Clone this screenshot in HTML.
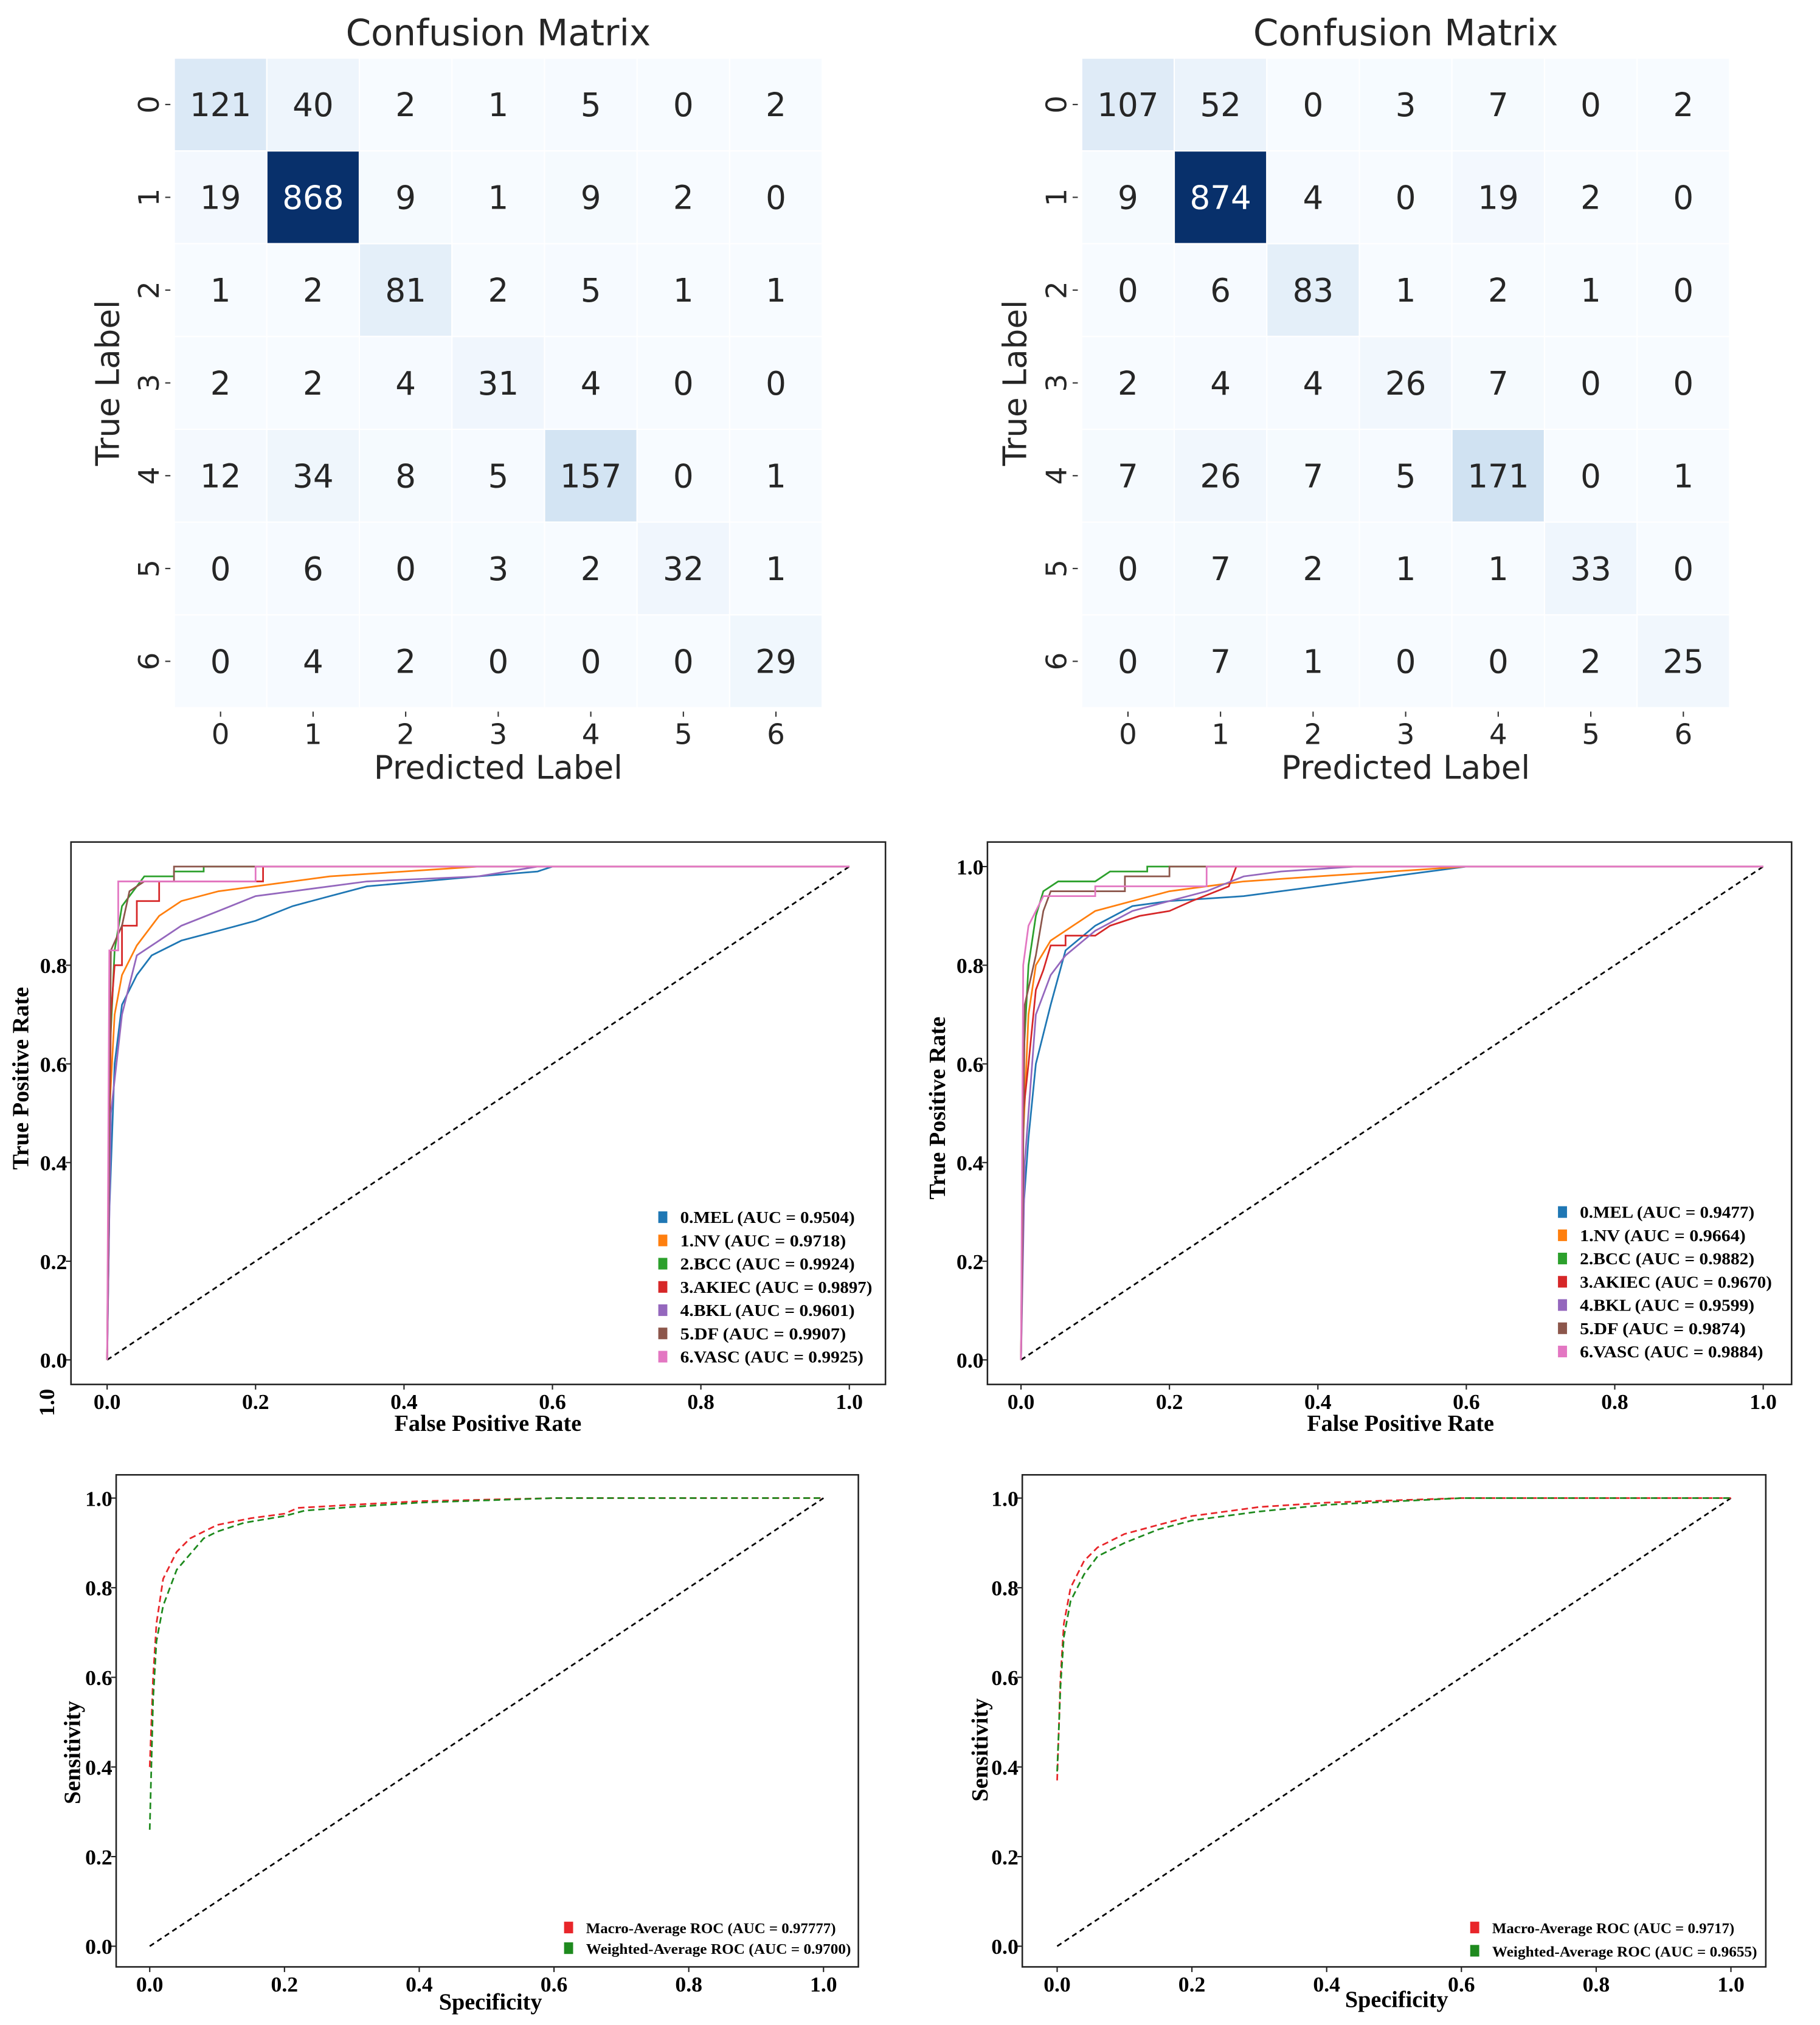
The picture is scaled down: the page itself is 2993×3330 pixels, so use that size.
<!DOCTYPE html>
<html><head><meta charset="utf-8">
<style>
html,body{margin:0;padding:0;background:#fff;}
svg{display:block;}
.cm{font-family:"DejaVu Sans","Liberation Sans",sans-serif;fill:#262626;}
.roc{font-family:"Liberation Serif",serif;font-weight:bold;fill:#000;}
</style></head>
<body>
<svg id="fig" width="2993" height="3330" viewBox="0 0 1410 1568" preserveAspectRatio="none" xmlns="http://www.w3.org/2000/svg"></svg>
<script>
// ---------- Data ----------
const cmLabels = ["0","1","2","3","4","5","6"];
const cm1Values = [
 [121,40,2,1,5,0,2],
 [19,868,9,1,9,2,0],
 [1,2,81,2,5,1,1],
 [2,2,4,31,4,0,0],
 [12,34,8,5,157,0,1],
 [0,6,0,3,2,32,1],
 [0,4,2,0,0,0,29]];
const cm2Values = [
 [107,52,0,3,7,0,2],
 [9,874,4,0,19,2,0],
 [0,6,83,1,2,1,0],
 [2,4,4,26,7,0,0],
 [7,26,7,5,171,0,1],
 [0,7,2,1,1,33,0],
 [0,7,1,0,0,2,25]];

const rocClassNames = ["0.MEL","1.NV","2.BCC","3.AKIEC","4.BKL","5.DF","6.VASC"];
const rocColors = ["#1f77b4","#ff7f0e","#2ca02c","#d62728","#9467bd","#8c564b","#e377c2"];
const roc1Auc = ["0.9504","0.9718","0.9924","0.9897","0.9601","0.9907","0.9925"];
const roc2Auc = ["0.9477","0.9664","0.9882","0.9670","0.9599","0.9874","0.9884"];
const roc1Mel = [[0,0],[0.003,0.3],[0.01,0.6],[0.02,0.72],[0.04,0.78],[0.06,0.82],[0.1,0.85],[0.15,0.87],[0.2,0.89],[0.25,0.92],[0.3,0.94],[0.35,0.96],[0.5,0.98],[0.58,0.99],[0.6,1],[1,1]];
const roc1Nv = [[0,0],[0.003,0.5],[0.01,0.7],[0.02,0.78],[0.04,0.84],[0.07,0.9],[0.1,0.93],[0.15,0.95],[0.2,0.96],[0.3,0.98],[0.4,0.99],[0.5,1],[1,1]];
const roc1Bcc = [[0,0],[0.003,0.6],[0.01,0.83],[0.02,0.92],[0.04,0.96],[0.05,0.98],[0.09,0.98],[0.09,0.99],[0.13,0.99],[0.13,1],[1,1]];
const roc1Akiec = [[0,0],[0.005,0.7],[0.01,0.8],[0.02,0.8],[0.02,0.88],[0.04,0.88],[0.04,0.93],[0.07,0.93],[0.07,0.97],[0.21,0.97],[0.21,1],[1,1]];
const roc1Bkl = [[0,0],[0.005,0.5],[0.02,0.7],[0.04,0.82],[0.07,0.85],[0.1,0.88],[0.15,0.91],[0.2,0.94],[0.25,0.95],[0.35,0.97],[0.5,0.98],[0.58,1],[1,1]];
const roc1Df = [[0,0],[0.005,0.83],[0.02,0.88],[0.03,0.95],[0.05,0.97],[0.09,0.97],[0.09,1],[0.2,1],[1,1]];
const roc1Vasc = [[0,0],[0.003,0.83],[0.015,0.83],[0.015,0.97],[0.2,0.97],[0.2,1],[1,1]];
const roc2Mel = [[0,0],[0.003,0.3],[0.01,0.45],[0.02,0.6],[0.04,0.72],[0.06,0.83],[0.1,0.88],[0.15,0.92],[0.2,0.93],[0.3,0.94],[0.4,0.96],[0.5,0.98],[0.6,1],[1,1]];
const roc2Nv = [[0,0],[0.003,0.45],[0.01,0.7],[0.02,0.8],[0.04,0.85],[0.07,0.88],[0.1,0.91],[0.15,0.93],[0.2,0.95],[0.3,0.97],[0.4,0.98],[0.5,0.99],[0.6,1],[1,1]];
const roc2Bcc = [[0,0],[0.003,0.6],[0.01,0.8],[0.02,0.9],[0.03,0.95],[0.05,0.97],[0.1,0.97],[0.12,0.99],[0.17,0.99],[0.17,1],[1,1]];
const roc2Akiec = [[0,0],[0.003,0.5],[0.01,0.6],[0.02,0.75],[0.03,0.79],[0.04,0.84],[0.06,0.84],[0.06,0.86],[0.1,0.86],[0.12,0.88],[0.16,0.9],[0.2,0.91],[0.23,0.93],[0.28,0.96],[0.29,1],[1,1]];
const roc2Bkl = [[0,0],[0.005,0.4],[0.02,0.7],[0.04,0.78],[0.06,0.82],[0.1,0.87],[0.15,0.91],[0.2,0.93],[0.25,0.95],[0.3,0.98],[0.35,0.99],[0.45,1],[1,1]];
const roc2Df = [[0,0],[0.005,0.72],[0.02,0.82],[0.03,0.91],[0.04,0.95],[0.14,0.95],[0.14,0.98],[0.2,0.98],[0.2,1],[1,1]];
const roc2Vasc = [[0,0],[0.003,0.8],[0.01,0.88],[0.02,0.91],[0.03,0.94],[0.1,0.94],[0.1,0.96],[0.25,0.96],[0.25,1],[1,1]];

const avgNames = ["Macro-Average ROC","Weighted-Average ROC"];
const avg1Auc = ["0.97777","0.9700"];
const avg2Auc = ["0.9717","0.9655"];
const avg1Macro = [[0,0.4],[0.005,0.6],[0.01,0.72],[0.02,0.82],[0.04,0.88],[0.06,0.91],[0.1,0.94],[0.15,0.955],[0.2,0.965],[0.22,0.978],[0.3,0.985],[0.4,0.993],[0.6,1],[1,1]];
const avg1Weighted = [[0,0.26],[0.005,0.55],[0.01,0.68],[0.02,0.76],[0.04,0.84],[0.06,0.875],[0.08,0.91],[0.1,0.925],[0.14,0.945],[0.2,0.96],[0.23,0.972],[0.3,0.98],[0.4,0.99],[0.6,1],[1,1]];
const avg2Macro = [[0,0.37],[0.005,0.6],[0.01,0.72],[0.02,0.8],[0.04,0.86],[0.06,0.89],[0.1,0.92],[0.15,0.94],[0.2,0.96],[0.3,0.98],[0.4,0.99],[0.6,1],[1,1]];
const avg2Weighted = [[0,0.39],[0.005,0.58],[0.01,0.69],[0.02,0.77],[0.04,0.83],[0.06,0.87],[0.1,0.9],[0.15,0.93],[0.2,0.95],[0.3,0.97],[0.4,0.985],[0.6,1],[1,1]];
const rocTicks = [0,0.2,0.4,0.6,0.8,1.0];

// ---------- Helpers ----------
const NS="http://www.w3.org/2000/svg";
const fig=document.getElementById('fig');
function mk(tag,attrs,parent,txt){const e=document.createElementNS(NS,tag);for(const k in attrs)e.setAttribute(k,attrs[k]);if(txt!==undefined)e.textContent=txt;(parent||fig).appendChild(e);return e;}
const blues=["#f7fbff","#deebf7","#c6dbef","#9ecae1","#6baed6","#4292c6","#2171b5","#08519c","#08306b"];
function hex(h){return [1,3,5].map(i=>parseInt(h.substr(i,2),16));}
function bluesAt(t){t=Math.max(0,Math.min(1,t))*8;const i=Math.min(7,Math.floor(t));const f=t-i;const a=hex(blues[i]),b=hex(blues[i+1]);return "rgb("+a.map((v,k)=>Math.round(v+(b[k]-v)*f)).join(",")+")";}

function confusion(values,x0,y0,x1,y1,name){
  const g=mk('g',{class:'cm'});
  
  
  const n=cmLabels.length,cw=(x1-x0)/n,ch=(y1-y0)/n;
  let mx=0;values.forEach(r=>r.forEach(v=>{if(v>mx)mx=v;}));
  values.forEach((row,i)=>row.forEach((v,j)=>{
    const t=v/mx;
    const r=mk('rect',{x:x0+j*cw,y:y0+i*ch,width:cw,height:ch,fill:bluesAt(t),stroke:'#fff','stroke-width':1},g);
    
    
    const tx=mk('text',{x:x0+(j+0.5)*cw,y:y0+(i+0.5)*ch+9,'text-anchor':'middle','font-size':25,fill:t>0.5?'#fff':'#262626'},g,String(v));
    
    
  }));
  cmLabels.forEach((l,k)=>{
    const cy=y0+(k+0.5)*ch, cx=x0+(k+0.5)*cw;
    mk('line',{x1:x0-7,x2:x0-3,y1:cy,y2:cy,stroke:'#333','stroke-width':1},g);
    const yl=mk('text',{x:0,y:0,transform:'translate('+(x0-12)+','+cy+') rotate(-90)','text-anchor':'middle','font-size':22},g,l);
    
    
    mk('line',{x1:cx,x2:cx,y1:y1+3,y2:y1+7,stroke:'#333','stroke-width':1},g);
    const xl=mk('text',{x:cx,y:y1+28,'text-anchor':'middle','font-size':22},g,l);
    
    
  });
  const tt=mk('text',{x:(x0+x1)/2,y:y0-10,'text-anchor':'middle','font-size':28},g,'Confusion Matrix');
  
  
  const xt=mk('text',{x:(x0+x1)/2,y:y1+55,'text-anchor':'middle','font-size':25},g,'Predicted Label');
  
  
  const yt=mk('text',{x:0,y:0,transform:'translate('+(x0-43)+','+((y0+y1)/2)+') rotate(-90)','text-anchor':'middle','font-size':25},g,'True Label');
  
  
}

function rocPanel(o){
  const g=mk('g',{class:'roc'});
  
  
  const sx=v=>o.ax0+(o.ax1-o.ax0)*v, sy=v=>o.ay0+(o.ay1-o.ay0)*v;
  const fr=mk('rect',{x:o.fx0,y:o.fy0,width:o.fx1-o.fx0,height:o.fy1-o.fy0,fill:'none',stroke:'#222','stroke-width':1.2},g);
  
  
  rocTicks.forEach(t=>{
    mk('line',{x1:sx(t),x2:sx(t),y1:o.fy1,y2:o.fy1+4,stroke:'#222'},g);
    const xl=mk('text',{x:sx(t),y:o.fy1+19,'text-anchor':'middle','font-size':16.5,textLength:21,lengthAdjust:'spacingAndGlyphs'},g,t.toFixed(1));
    
    
    if(!(o.noTop&&t===1)){
      mk('line',{x1:o.fx0-4,x2:o.fx0,y1:sy(t),y2:sy(t),stroke:'#222'},g);
      const yl=mk('text',{x:o.fx0-3,y:sy(t)+6,'text-anchor':'end','font-size':16.5,textLength:21,lengthAdjust:'spacingAndGlyphs'},g,t.toFixed(1));
      
      
    }
  });
  const dg=mk('line',{x1:sx(0),y1:sy(0),x2:sx(1),y2:sy(1),stroke:'#000','stroke-width':1.3,'stroke-dasharray':'4,3'},g);
  
  
  o.series.forEach((s,i)=>{
    const p=mk('polyline',{points:s.pts.map(q=>sx(q[0]).toFixed(1)+','+sy(q[1]).toFixed(1)).join(' '),fill:'none',stroke:s.color,'stroke-width':1.3,'stroke-dasharray':s.dash||'none'},g);
    
    
    const ly=o.ly0+i*o.lstep;
    const sq=mk('rect',{x:o.lx,y:ly-9,width:7,height:9,fill:s.color},g);
    
    
    const lt=mk('text',{x:o.lx+17,y:ly,'font-size':o.lfs,textLength:s.label.length*o.lfs*o.lw,lengthAdjust:'spacingAndGlyphs'},g,s.label);
    
    
  });
  const xt=mk('text',{x:o.xtx,y:o.xty,'text-anchor':'middle','font-size':18},g,o.xTitle);
  
  
  const yt=mk('text',{x:0,y:0,transform:'translate('+o.ytx+','+o.yty+') rotate(-90)','text-anchor':'middle','font-size':18},g,o.yTitle);
  
  
  return g;
}

// ---------- Draw ----------
confusion(cm1Values,135,45,637,548,'confusion-matrix-left');
confusion(cm2Values,838,45,1340,548,'confusion-matrix-right');

const roc1Series=[roc1Mel,roc1Nv,roc1Bcc,roc1Akiec,roc1Bkl,roc1Df,roc1Vasc];
const roc2Series=[roc2Mel,roc2Nv,roc2Bcc,roc2Akiec,roc2Bkl,roc2Df,roc2Vasc];
const g1=rocPanel({name:'roc-chart-left',fx0:55,fx1:686,fy0:652,fy1:1072,ax0:83,ax1:658,ay0:1053,ay1:671,noTop:true,
  series:roc1Series.map((p,i)=>({pts:p,color:rocColors[i],label:rocClassNames[i]+' (AUC = '+roc1Auc[i]+')'})),
  lx:510,ly0:947,lstep:18,lfs:13,lw:0.52,xTitle:'False Positive Rate',xtx:378,xty:1108,yTitle:'True Positive Rate',ytx:22,yty:835});
const stray=mk('text',{x:0,y:0,transform:'translate(42,1086) rotate(-90)','text-anchor':'middle','font-size':17},g1,'1.0');


rocPanel({name:'roc-chart-right',fx0:765,fx1:1388,fy0:652,fy1:1072,ax0:791,ax1:1366,ay0:1053,ay1:671,
  series:roc2Series.map((p,i)=>({pts:p,color:rocColors[i],label:rocClassNames[i]+' (AUC = '+roc2Auc[i]+')'})),
  lx:1207,ly0:943,lstep:18,lfs:13,lw:0.52,xTitle:'False Positive Rate',xtx:1085,xty:1108,yTitle:'True Positive Rate',ytx:732,yty:858});
rocPanel({name:'average-roc-left',fx0:90,fx1:665,fy0:1142,fy1:1523,ax0:116,ax1:638,ay0:1507,ay1:1160,
  series:[{pts:avg1Macro,color:'#e8262a',dash:'5,3',label:avgNames[0]+' (AUC = '+avg1Auc[0]+')'},{pts:avg1Weighted,color:'#1e8a1e',dash:'5,3',label:avgNames[1]+' (AUC = '+avg1Auc[1]+')'}],
  lx:437,ly0:1497,lstep:16,lfs:11.5,lw:0.51,xTitle:'Specificity',xtx:380,xty:1556,yTitle:'Sensitivity',ytx:62,yty:1357});
rocPanel({name:'average-roc-right',fx0:792,fx1:1368,fy0:1142,fy1:1523,ax0:819,ax1:1341,ay0:1507,ay1:1160,
  series:[{pts:avg2Macro,color:'#e8262a',dash:'5,3',label:avgNames[0]+' (AUC = '+avg2Auc[0]+')'},{pts:avg2Weighted,color:'#1e8a1e',dash:'5,3',label:avgNames[1]+' (AUC = '+avg2Auc[1]+')'}],
  lx:1139,ly0:1497,lstep:18,lfs:11.5,lw:0.51,xTitle:'Specificity',xtx:1082,xty:1554,yTitle:'Sensitivity',ytx:765,yty:1355});
</script>
</body></html>
